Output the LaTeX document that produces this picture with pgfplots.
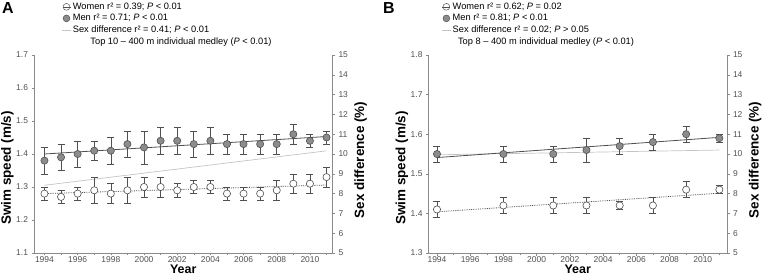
\documentclass[border=0pt]{standalone}
\usepackage{pgfplots}
\pgfplotsset{compat=1.18}
\usepackage{fontspec}
\setmainfont{Liberation Sans}
\definecolor{axgray}{HTML}{8A8A8A}
\definecolor{dk}{HTML}{505050}
\definecolor{menfill}{HTML}{8C8C8C}
\definecolor{difgray}{HTML}{C4C4C4}
\definecolor{ticktxt}{HTML}{505050}

\pgfplotsset{
  base/.style={
    scale only axis, width=298.5bp, height=198bp,
    axis line style={axgray, line width=0.7bp},
    tick style={axgray, line width=0.5bp}, tick align=outside,
    major tick length=2.5bp, minor tick length=2bp,
    /pgf/number format/assume math mode=true,
    tick label style={font=\fontsize{8.5}{10}\selectfont, text=ticktxt},
    label style={font=\bfseries\fontsize{13.5}{15}\selectfont},
    xtick={1994,1996,...,2010}, minor xtick={1995,1997,...,2011},
    x tick label style={/pgf/number format/1000 sep={}},
    xticklabel style={yshift=2.5bp},
    clip=false,
  },
  mainax/.style={
    base, axis x line*=bottom, axis y line*=left,
    yticklabel style={/pgf/number format/.cd, fixed, fixed zerofill, precision=1},
    ylabel={Swim speed (m/s)},
    ylabel style={at={(axis description cs:-0.089,0.43)}, anchor=center},
    xlabel={Year},
    xlabel style={at={(axis description cs:0.5,-0.084)}, anchor=center, font=\bfseries\fontsize{12.5}{14}\selectfont},
    legend style={draw=none, fill=none, font=\fontsize{9.3}{11}\selectfont,
      row sep=0.6bp, inner sep=0pt, anchor=north west, legend cell align=left,
      nodes={inner sep=1.5bp}},
  },
  twinax/.style={
    base, axis x line=none, axis y line*=right,
    ymin=5, ymax=15, ytick={5,6,...,15},
    ylabel={Sex difference (\%)},
    ylabel style={at={(axis description cs:1.094,0.47)}, anchor=center},
  },
  errp/.style={dk, line width=0.6bp, only marks, mark=*, mark size=3.6bp,
    error bars/.cd, y dir=both, y explicit,
    error bar style={dk, line width=0.6bp},
    error mark options={rotate=90, mark size=3.5bp, dk, line width=0.6bp}},
  menp/.style={mark options={fill=menfill, draw=dk}, errp},
  womp/.style={mark options={fill=white, draw=dk}, errp},
  menline/.style={dk, line width=0.8bp},
  womline/.style={dk, line width=0.8bp, densely dotted},
  difline/.style={difgray, line width=0.7bp},
  legwom/.style={dk, mark=o, mark size=3.4bp, line width=0.5bp, mark options={solid},
    legend image code/.code={\draw[##1] plot coordinates {(0bp,0bp)}; \draw[dk, line width=0.5bp] (-4bp,0bp) -- (4bp,0bp);}},
  legmen/.style={dk, mark=*, mark size=3.4bp, line width=0.5bp, mark options={fill=menfill, draw=dk},
    legend image code/.code={\draw[##1] plot coordinates {(0bp,0bp)};}},
  legdif/.style={difgray, line width=0.7bp,
    legend image code/.code={\draw[difgray, line width=0.7bp] (-4.5bp,0bp) -- (4.5bp,0bp);}},
}

\begin{document}
\begin{tikzpicture}
\useasboundingbox (0,0) rectangle (762bp,277bp);

% ---------------- Panel A ----------------
\begin{axis}[twinax, at={(34bp,24bp)}, anchor=south west, xmin=1993.37, xmax=2011.36]
  \addplot[difline] coordinates {(1994,8.42) (2011,10.16)};
\end{axis}
\begin{axis}[mainax, at={(34bp,24bp)}, anchor=south west, xmin=1993.37, xmax=2011.36,
    ymin=1.1, ymax=1.7, ytick={1.1,1.2,1.3,1.4,1.5,1.6,1.7},
    legend style={at={(axis description cs:0.092,1.272)}}]
  \addlegendimage{legwom}
  \addlegendimage{legmen}
  \addlegendimage{legdif}
  \legend{Women r² = 0.39; \textit{P} < 0.01, Men r² = 0.71; \textit{P} < 0.01, Sex difference r² = 0.41; \textit{P} < 0.01}
  \addplot[menline] coordinates {(1994,1.400) (2011,1.453)};
  \addplot[womline] coordinates {(1994,1.280) (2011,1.306)};
  \addplot[menp] coordinates {
    (1994,1.38) +- (0,0.04) (1995,1.39) +- (0,0.04) (1996,1.40) +- (0,0.04)
    (1997,1.41) +- (0,0.03) (1998,1.41) +- (0,0.04) (1999,1.43) +- (0,0.04)
    (2000,1.42) +- (0,0.05) (2001,1.44) +- (0,0.04) (2002,1.44) +- (0,0.04)
    (2003,1.43) +- (0,0.04) (2004,1.44) +- (0,0.04) (2005,1.43) +- (0,0.03)
    (2006,1.43) +- (0,0.03) (2007,1.43) +- (0,0.03) (2008,1.43) +- (0,0.03)
    (2009,1.46) +- (0,0.03) (2010,1.44) +- (0,0.02) (2011,1.45) +- (0,0.02)};
  \addplot[womp] coordinates {
    (1994,1.28) +- (0,0.02) (1995,1.27) +- (0,0.02) (1996,1.28) +- (0,0.02)
    (1997,1.29) +- (0,0.04) (1998,1.28) +- (0,0.03) (1999,1.29) +- (0,0.04)
    (2000,1.30) +- (0,0.03) (2001,1.30) +- (0,0.03) (2002,1.29) +- (0,0.02)
    (2003,1.30) +- (0,0.02) (2004,1.30) +- (0,0.02) (2005,1.28) +- (0,0.02)
    (2006,1.28) +- (0,0.02) (2007,1.28) +- (0,0.02) (2008,1.29) +- (0,0.03)
    (2009,1.31) +- (0,0.03) (2010,1.31) +- (0,0.03) (2011,1.33) +- (0,0.03)};
\end{axis}
\node[font=\fontsize{9.3}{11}\selectfont] at (181bp,234.5bp) {Top 10 – 400 m individual medley (\textit{P} < 0.01)};
\node[font=\bfseries\fontsize{16}{18}\selectfont] at (8bp,269bp) {A};

% ---------------- Panel B ----------------
\begin{axis}[twinax, at={(428.5bp,24bp)}, anchor=south west, xmin=1993.49, xmax=2011.46]
  \addplot[difline] coordinates {(1994,9.96) (2011,10.2)};
\end{axis}
\begin{axis}[mainax, at={(428.5bp,24bp)}, anchor=south west, xmin=1993.49, xmax=2011.46,
    ymin=1.3, ymax=1.8, ytick={1.3,1.4,1.5,1.6,1.7,1.8},
    legend style={at={(axis description cs:0.043,1.272)}}]
  \addlegendimage{legwom}
  \addlegendimage{legmen}
  \addlegendimage{legdif}
  \legend{Women r² = 0.62; \textit{P} = 0.02, Men r² = 0.81; \textit{P} < 0.01, Sex difference r² = 0.02; \textit{P} > 0.05}
  \addplot[menline] coordinates {(1994,1.541) (2011,1.592)};
  \addplot[womline] coordinates {(1994,1.404) (2011,1.451)};
  \addplot[menp] coordinates {
    (1994,1.55) +- (0,0.02) (1998,1.55) +- (0,0.02) (2001,1.55) +- (0,0.02)
    (2003,1.56) +- (0,0.03) (2005,1.57) +- (0,0.02) (2007,1.58) +- (0,0.02)
    (2009,1.60) +- (0,0.02) (2011,1.59) +- (0,0.01)};
  \addplot[womp] coordinates {
    (1994,1.41) +- (0,0.02) (1998,1.42) +- (0,0.02) (2001,1.42) +- (0,0.02)
    (2003,1.42) +- (0,0.02) (2005,1.42) +- (0,0.01) (2007,1.42) +- (0,0.02)
    (2009,1.46) +- (0,0.02) (2011,1.46) +- (0,0.01)};
\end{axis}
\node[font=\fontsize{9.3}{11}\selectfont] at (546bp,234.5bp) {Top 8 – 400 m individual medley (\textit{P} < 0.01)};
\node[font=\bfseries\fontsize{16}{18}\selectfont] at (389bp,269bp) {B};
\end{tikzpicture}
\end{document}
